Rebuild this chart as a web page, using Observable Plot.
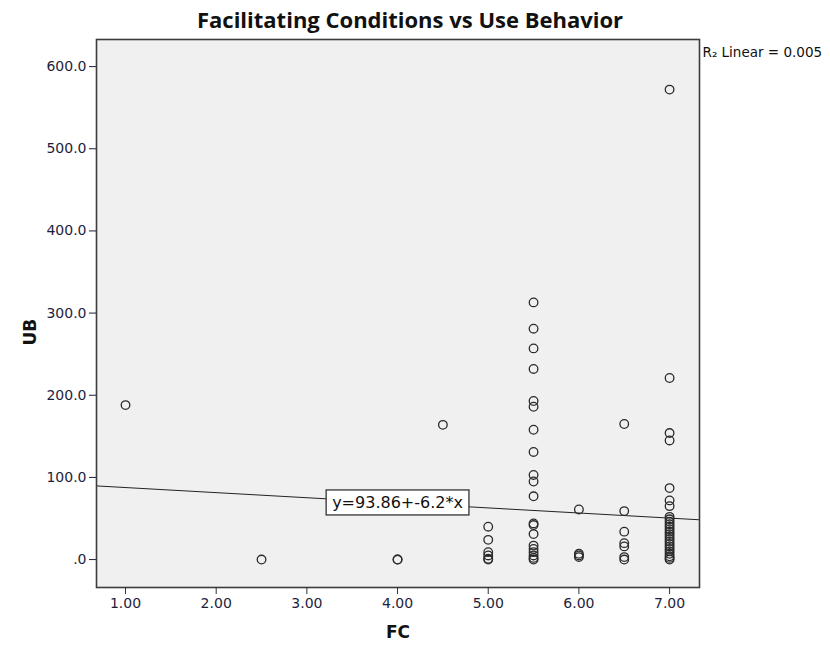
<!DOCTYPE html>
<html><head><meta charset="utf-8">
<script src="https://cdn.jsdelivr.net/npm/d3@7"></script>
<script src="https://cdn.jsdelivr.net/npm/@observablehq/plot@0.6"></script>
<style>body{margin:0;background:#fff}</style>
</head><body><div id="chart"></div>
<script>
// FC levels and the UB values observed at each level
const fcLevels = [1, 2.5, 4, 4.5, 5, 5.5, 6, 6.5, 7];
const ubAtFc1 = [188];
const ubAtFc25 = [0];
const ubAtFc4 = [0, 0];
const ubAtFc45 = [164];
const ubAtFc5 = [40, 24, 9, 5, 1, 0];
const ubAtFc55 = [313, 281, 257, 232, 193, 186, 158, 131, 103, 95, 77, 44, 42, 31, 17, 13, 9, 5, 2, 0];
const ubAtFc6 = [61, 7, 5, 3];
const ubAtFc65 = [165, 59, 34, 20, 16, 3, 0];
const ubAtFc7 = [572, 221, 154, 145, 87, 72, 65, 52, 49, 46, 43, 40, 37, 34, 31, 28, 25, 22, 19, 16, 13, 10, 7, 4, 2, 0];
const ubGroups = [ubAtFc1, ubAtFc25, ubAtFc4, ubAtFc45, ubAtFc5, ubAtFc55, ubAtFc6, ubAtFc65, ubAtFc7];

const xTicks = [1, 2, 3, 4, 5, 6, 7];
const yTicks = [0, 100, 200, 300, 400, 500, 600];
const xDomain = [0.68, 7.33];
const yDomain = [-34, 633];

const intercept = 93.86;
const slope = -6.2;
const eqLabelX = 4;
const eqText = "y=93.86+-6.2*x";
const r2Text = "R\u2082 Linear = 0.005";
const titleText = "Facilitating Conditions vs Use Behavior";

const points = fcLevels.flatMap((fc, i) => ubGroups[i].map(ub => ({fc, ub})));
const fitLine = xDomain.map(fc => ({fc, ub: intercept + slope * fc}));
const eqPos = [{fc: eqLabelX, ub: intercept + slope * eqLabelX, text: eqText}];

const font = "'DejaVu Sans', sans-serif";
const tickColor = "#1e1e3c";

const chart = Plot.plot({
  width: 830, height: 645,
  marginLeft: 96, marginRight: 131, marginTop: 39, marginBottom: 58,
  style: {fontFamily: font, background: "#fff", color: "#111"},
  x: {domain: xDomain},
  y: {domain: yDomain},
  marks: [
    Plot.frame({fill: "#f0f0f0", stroke: "none"}),
    Plot.line(fitLine, {x: "fc", y: "ub", stroke: "#222", strokeWidth: 1}),
    Plot.dot(points, {x: "fc", y: "ub", r: 4.3, stroke: "#2a2a2a", strokeWidth: 1.3, fill: "none"}),
    Plot.text(eqPos, {x: "fc", y: "ub", text: "text", fontSize: 16, fill: "#111", className: "eqlabel"}),
    Plot.frame({stroke: "#3c3c3c", strokeWidth: 1.6}),
    Plot.axisX({ticks: xTicks, tickFormat: d => d.toFixed(2), tickSize: 7, tickPadding: 4, fontSize: 14, label: null, color: tickColor, stroke: "#333"}),
    Plot.axisY({ticks: yTicks, tickFormat: d => d === 0 ? ".0" : d.toFixed(1), tickSize: 7, tickPadding: 3, fontSize: 14, label: null, color: tickColor}),
    Plot.text([titleText], {frameAnchor: "top", dx: 12, dy: -27, fontSize: 22, fontWeight: "bold", fill: "#111", fontFamily: "'Open Sans', sans-serif"}),
    Plot.text([r2Text], {frameAnchor: "top-right", dx: 3, dy: 8, textAnchor: "start", fontSize: 13.5, fill: "#111"}),
    Plot.text(["UB"], {frameAnchor: "left", dx: -66, dy: 32, rotate: -90, fontSize: 17, fontWeight: "bold", fill: "#111"}),
    Plot.text(["FC"], {frameAnchor: "bottom", dy: 50, fontSize: 17, fontWeight: "bold", fill: "#111"})
  ]
});
document.getElementById("chart").appendChild(chart);

// white box behind the regression equation label
const eqGroup = chart.querySelector(".eqlabel");
if (eqGroup) {
  const t = eqGroup.querySelector("text");
  const bb = t.getBBox();
  const rect = document.createElementNS("http://www.w3.org/2000/svg", "rect");
  rect.setAttribute("x", bb.x - 6);
  rect.setAttribute("y", bb.y - 3);
  rect.setAttribute("width", bb.width + 12);
  rect.setAttribute("height", bb.height + 6);
  rect.setAttribute("fill", "#fff");
  rect.setAttribute("stroke", "#333");
  rect.setAttribute("stroke-width", 1.3);
  const tr = t.getAttribute("transform");
  if (tr) rect.setAttribute("transform", tr);
  eqGroup.insertBefore(rect, eqGroup.firstChild);
}
</script></body></html>
